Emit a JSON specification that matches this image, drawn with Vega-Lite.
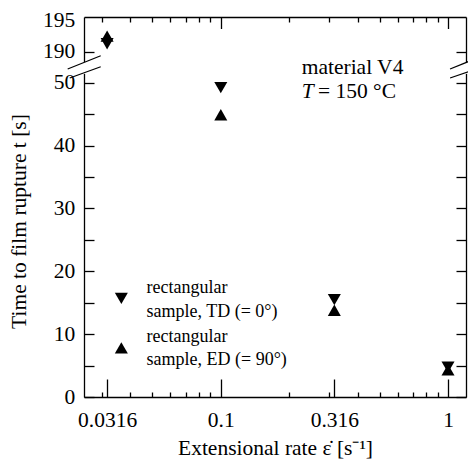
{
  "$schema": "https://vega.github.io/schema/vega-lite/v6.json",
  "width": 382,
  "height": 380,
  "autosize": {"type": "none"},
  "padding": {"left": 84, "top": 17, "right": 2, "bottom": 62},
  "background": "white",
  "config": {
    "view": {"stroke": null},
    "font": "Liberation Serif",
    "axis": {
      "labelFont": "Liberation Serif",
      "titleFont": "Liberation Serif",
      "labelColor": "black",
      "titleColor": "black",
      "domainColor": "black",
      "tickColor": "black",
      "domainWidth": 1.3,
      "tickWidth": 1.3,
      "grid": false,
      "labelFontSize": 21.5,
      "titleFontSize": 21.5,
      "titleFontWeight": "normal",
      "labelOverlap": false,
      "labelFlush": false
    }
  },
  "datasets": {
    "pts": [
      {"rate": 0.0316, "t": 191.26, "sample": "TD"},
      {"rate": 0.1, "t": 49.2, "sample": "TD"},
      {"rate": 0.316, "t": 15.5, "sample": "TD"},
      {"rate": 1, "t": 4.75, "sample": "TD"},
      {"rate": 0.0316, "t": 192.46, "sample": "ED"},
      {"rate": 0.1, "t": 44.9, "sample": "ED"},
      {"rate": 0.316, "t": 13.8, "sample": "ED"},
      {"rate": 1, "t": 4.3, "sample": "ED"}
    ],
    "legendSym": [
      {"rate": 0.0365, "t": 15.7, "sample": "TD"},
      {"rate": 0.0365, "t": 7.8, "sample": "ED"}
    ],
    "legendText": [
      {"rate": 0.0471, "t": 17.34, "label": "rectangular\nsample, TD (= 0°)"},
      {"rate": 0.0471, "t": 9.59, "label": "rectangular\nsample, ED (= 90°)"}
    ],
    "annot": [
      {"rate": 0.227, "t": 115, "label": "material V4"},
      {"rate": 0.2676, "t": 48.57, "label": "= 150 °C"}
    ],
    "annotItalic": [
      {"rate": 0.227, "t": 48.57, "label": "T"}
    ],
    "slashes": [
      {"x1": 0.02119, "x2": 0.02962, "y1": 111.9, "y2": 171.9},
      {"x1": 0.02163, "x2": 0.02962, "y1": 71.2, "y2": 122.3},
      {"x1": 1.021, "x2": 1.426, "y1": 111.9, "y2": 171.9},
      {"x1": 1.021, "x2": 1.426, "y1": 71.2, "y2": 122.3}
    ],
    "gaps": [
      {"x1": 0.0243, "x2": 0.0258, "y1": 90, "y2": 143},
      {"x1": 1.17, "x2": 1.24, "y1": 90, "y2": 143}
    ]
  },
  "layer": [
    {
      "data": {"name": "gaps"},
      "mark": {"type": "rect", "fill": "white", "stroke": null},
      "encoding": {
        "x": {"field": "x1", "type": "quantitative", "scale": {"type": "log", "domain": [0.025, 1.2], "nice": false}, "axis": null},
        "x2": {"field": "x2"},
        "y": {"field": "y1", "type": "quantitative", "scale": {"domain": [0, 50, 190, 195.5], "range": [380, 65.7, 34.7, 0], "nice": false, "zero": false}, "axis": null},
        "y2": {"field": "y2"}
      }
    },
    {
      "data": {"name": "slashes"},
      "mark": {"type": "rule", "color": "black", "strokeWidth": 1.2},
      "encoding": {
        "x": {"field": "x1", "type": "quantitative", "scale": {"type": "log", "domain": [0.025, 1.2], "nice": false}, "axis": null},
        "x2": {"field": "x2"},
        "y": {"field": "y1", "type": "quantitative", "scale": {"domain": [0, 50, 190, 195.5], "range": [380, 65.7, 34.7, 0], "nice": false, "zero": false}, "axis": null},
        "y2": {"field": "y2"}
      }
    },
    {
      "data": {"name": "pts"},
      "mark": {"type": "point", "filled": true, "opacity": 1, "color": "black", "size": 170},
      "encoding": {
        "x": {
          "field": "rate", "type": "quantitative",
          "scale": {"type": "log", "domain": [0.025, 1.2], "nice": false},
          "axis": {
            "orient": "bottom",
            "values": [0.03, 0.0316, 0.04, 0.05, 0.06, 0.07, 0.08, 0.09, 0.1, 0.2, 0.3, 0.316, 0.4, 0.5, 0.6, 0.7, 0.8, 0.9, 1],
            "format": "~g",
            "labelExpr": "indexof([0.0316, 0.1, 0.316, 1], datum.value) >= 0 ? datum.label : ''",
            "tickSize": {"condition": {"test": "indexof([0.0316, 0.1, 0.316, 1], datum.value) >= 0", "value": -18}, "value": -5},
            "labelPadding": 47.7,
            "labelBaseline": "alphabetic",
            "title": "Extensional rate ε̇ [s⁻¹]",
            "titleY": 57,
            "titleBaseline": "alphabetic"
          }
        },
        "y": {
          "field": "t", "type": "quantitative",
          "scale": {"domain": [0, 50, 190, 195.5], "range": [380, 65.7, 34.7, 0], "nice": false, "zero": false},
          "axis": {
            "orient": "left",
            "values": [0, 5, 10, 15, 20, 25, 30, 35, 40, 45, 50, 190, 195],
            "labelExpr": "datum.value % 10 == 0 || datum.value == 195 ? datum.label : ''",
            "tickSize": -10,
            "tickOpacity": {"condition": {"test": "datum.value == 195", "value": 0}, "value": 1},
            "labelPadding": 19.3,
            "title": "Time to film rupture t [s]",
            "titleX": -64.5,
            "titleY": 204,
            "titleAngle": -90,
            "titleAlign": "center",
            "titleBaseline": "middle"
          }
        },
        "shape": {"field": "sample", "type": "nominal", "scale": {"domain": ["TD", "ED"], "range": ["triangle-down", "triangle-up"]}, "legend": null}
      }
    },
    {
      "data": {"name": "legendSym"},
      "mark": {"type": "point", "filled": true, "opacity": 1, "color": "black", "size": 170},
      "encoding": {
        "x": {
          "field": "rate", "type": "quantitative",
          "scale": {"type": "log", "domain": [0.025, 1.2], "nice": false},
          "axis": {
            "orient": "top",
            "values": [0.03, 0.04, 0.05, 0.06, 0.07, 0.08, 0.09, 0.1, 0.2, 0.3, 0.4, 0.5, 0.6, 0.7, 0.8, 0.9, 1],
            "labels": false,
            "tickSize": {"condition": {"test": "indexof([0.1, 1], datum.value) >= 0", "value": -11.5}, "value": -5},
            "title": null
          }
        },
        "y": {
          "field": "t", "type": "quantitative",
          "scale": {"domain": [0, 50, 190, 195.5], "range": [380, 65.7, 34.7, 0], "nice": false, "zero": false},
          "axis": {
            "orient": "right",
            "values": [0, 5, 10, 15, 20, 25, 30, 35, 40, 45, 50, 190],
            "labels": false,
            "tickSize": -10,
            "title": null
          }
        },
        "shape": {"field": "sample", "type": "nominal", "scale": {"domain": ["TD", "ED"], "range": ["triangle-down", "triangle-up"]}, "legend": null}
      }
    },
    {
      "data": {"name": "legendText"},
      "mark": {"type": "text", "align": "left", "baseline": "middle", "fontSize": 18, "font": "Liberation Serif", "color": "black", "lineBreak": "\n", "lineHeight": 23.5},
      "encoding": {
        "x": {"field": "rate", "type": "quantitative", "scale": {"type": "log", "domain": [0.025, 1.2], "nice": false}, "axis": null},
        "y": {"field": "t", "type": "quantitative", "scale": {"domain": [0, 50, 190, 195.5], "range": [380, 65.7, 34.7, 0], "nice": false, "zero": false}, "axis": null},
        "text": {"field": "label"}
      }
    },
    {
      "data": {"name": "annot"},
      "mark": {"type": "text", "align": "left", "baseline": "middle", "fontSize": 21.5, "font": "Liberation Serif", "color": "black"},
      "encoding": {
        "x": {"field": "rate", "type": "quantitative", "scale": {"type": "log", "domain": [0.025, 1.2], "nice": false}, "axis": null},
        "y": {"field": "t", "type": "quantitative", "scale": {"domain": [0, 50, 190, 195.5], "range": [380, 65.7, 34.7, 0], "nice": false, "zero": false}, "axis": null},
        "text": {"field": "label"}
      }
    },
    {
      "data": {"name": "annotItalic"},
      "mark": {"type": "text", "align": "left", "baseline": "middle", "fontSize": 21.5, "font": "Liberation Serif", "fontStyle": "italic", "color": "black"},
      "encoding": {
        "x": {"field": "rate", "type": "quantitative", "scale": {"type": "log", "domain": [0.025, 1.2], "nice": false}, "axis": null},
        "y": {"field": "t", "type": "quantitative", "scale": {"domain": [0, 50, 190, 195.5], "range": [380, 65.7, 34.7, 0], "nice": false, "zero": false}, "axis": null},
        "text": {"field": "label"}
      }
    }
  ],
  "resolve": {"axis": {"x": "independent", "y": "independent"}}
}
